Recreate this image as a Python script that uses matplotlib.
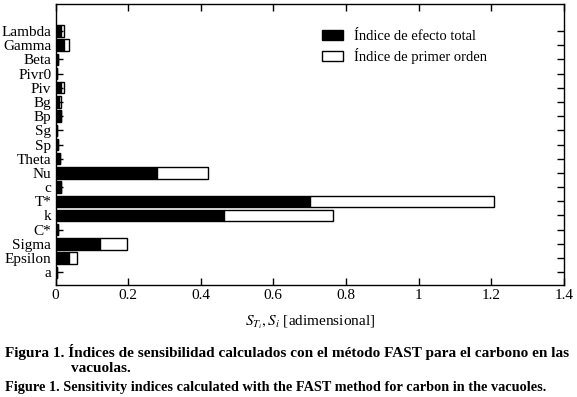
import matplotlib
matplotlib.use("Agg")
import matplotlib.pyplot as plt
import numpy as np

plt.rcParams['font.family'] = ['Liberation Serif', 'DejaVu Serif']
plt.rcParams['mathtext.fontset'] = 'stix'

params = ["Lambda", "Gamma", "Beta", "Pivr0", "Piv", "Bg", "Bp", "Sg", "Sp",
          "Theta", "Nu", "c", "T*", "k", "C*", "Sigma", "Epsilon", "a"]
total_effect = [0.015, 0.024, 0.007, 0.004, 0.016, 0.010, 0.014, 0.004, 0.007,
                0.012, 0.280, 0.014, 0.700, 0.465, 0.007, 0.123, 0.038, 0.004]
first_order = [0.009, 0.014, 0.0, 0.0, 0.008, 0.006, 0.0, 0.0, 0.0,
               0.0, 0.140, 0.0, 0.507, 0.298, 0.0, 0.075, 0.021, 0.0]

fig = plt.figure(figsize=(5.77, 3.97), dpi=100)
ax = fig.add_axes([0.0962, 0.282, 0.881, 0.708])

y = np.arange(len(params))[::-1]
h = 0.8
ax.barh(y, total_effect, height=h, color='black', edgecolor='black', linewidth=1.0,
        label='Índice de efecto total')
ax.barh(y, first_order, left=total_effect, height=h, color='white', edgecolor='black',
        linewidth=1.0, label='Índice de primer orden')

ax.set_xlim(0, 1.4)
ax.set_ylim(-0.9, 18.9)
ax.set_xticks(np.arange(0, 1.41, 0.2))
ax.set_xticklabels(['0', '0.2', '0.4', '0.6', '0.8', '1', '1.2', '1.4'], fontsize=11)
ax.set_yticks(y)
ax.set_yticklabels(params, fontsize=11)
ax.tick_params(direction='in', top=True, right=True, length=5, width=1.0, pad=3)
for s in ax.spines.values():
    s.set_linewidth(1.0)

ax.set_xlabel(r'$S_{T_i}, S_i$ [adimensional]', fontsize=11, labelpad=8)

leg = ax.legend(loc='upper right', bbox_to_anchor=(0.875, 0.955), frameon=False,
                fontsize=10.5, handlelength=1.4, handleheight=0.7, labelspacing=0.35)

fig.text(0.008, 0.113, 'Figura 1. Índices de sensibilidad calculados con el método FAST para el carbono en las',
         fontsize=11, fontweight='bold', ha='left', va='center')
fig.text(0.123, 0.073, 'vacuolas.', fontsize=11, fontweight='bold', ha='left', va='center')
fig.text(0.008, 0.025, 'Figure 1. Sensitivity indices calculated with the FAST method for carbon in the vacuoles.',
         fontsize=10.3, fontweight='bold', ha='left', va='center')

fig.savefig('out.png', dpi=100)
